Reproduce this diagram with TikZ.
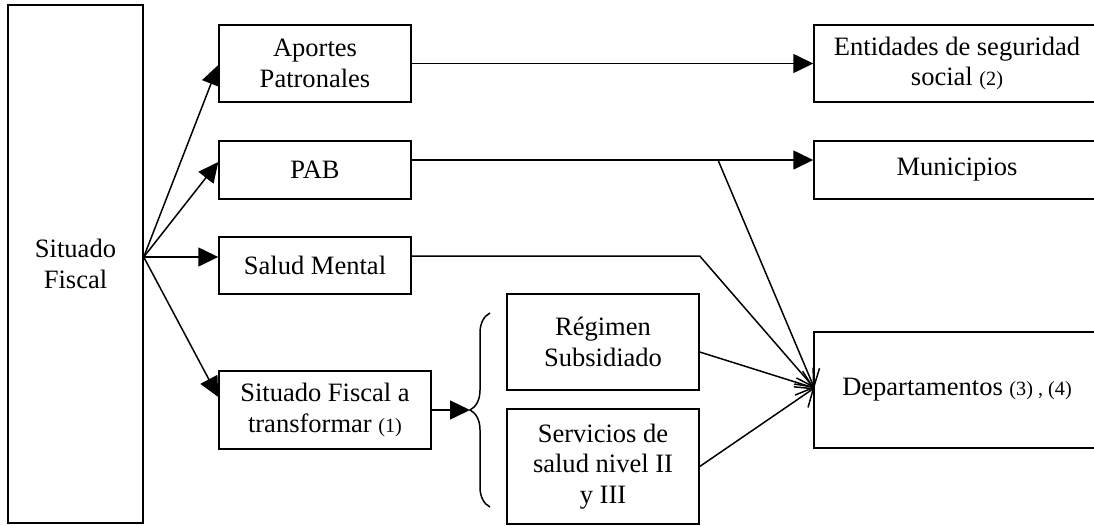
\documentclass[tikz,border=0pt]{standalone}
\usepackage{fontspec}
\setmainfont{Liberation Serif}
\usetikzlibrary{calc,arrows.meta,decorations.pathreplacing}
\newcommand{\nota}[1]{{\fontsize{11.5}{13}\selectfont #1}}

\begin{document}
\begin{tikzpicture}[x=0.02cm,y=-0.02cm,line width=0.85pt,
    box/.style={draw,inner sep=0pt,align=center,font=\fontsize{15.1}{17.5}\selectfont},
    tri/.style={-{Triangle[length=0.4cm,width=0.38cm]}},
    barb/.style={-{Straight Barb[length=0.3cm,width=0.5cm]}}]
        \useasboundingbox (0,0) rectangle (1094,525);

        \node[box,minimum width=2.7cm,minimum height=10.36cm] (sf) at (75.5,264) {Situado\\Fiscal};

        \node[box,minimum width=3.84cm,minimum height=1.54cm] (apo) at (315,63.5) {Aportes\\Patronales};
        \node[box,minimum width=3.84cm,minimum height=1.16cm] (pab) at (315,170) {PAB};
        \node[box,minimum width=3.84cm,minimum height=1.14cm] (sm) at (315,265.5) {Salud Mental};
        \node[box,minimum width=4.24cm,minimum height=1.56cm] (sft) at (325,410) {Situado Fiscal a\\transformar \nota{(1)}};

        \node[box,minimum width=3.84cm,minimum height=1.92cm] (reg) at (603,342) {Régimen\\Subsidiado};
        \node[box,minimum width=3.84cm,minimum height=2.30cm] (ser) at (603,466.5) {Servicios de\\salud nivel II\\y III};

        \node[box,minimum width=5.72cm,minimum height=1.54cm] (ent) at (957,63.5) {Entidades de seguridad\\social \nota{(2)}};
        \node[box,minimum width=5.72cm,minimum height=1.16cm] (mun) at (957,170) {Municipios};
        \node[box,minimum width=5.72cm,minimum height=2.32cm] (dep) at (957,390) {Departamentos \nota{(3) , (4)}};

        \coordinate (src) at ($(sf.east)+(0,-7)$);
        \draw[tri] (src) -- ($(apo.west)+(0,1.5)$);
        \draw[tri] (src) -- ($(pab.west)+(0,-8)$);
        \draw[tri] (src) -- (src -| sm.west);
        \draw[tri] (src) -- ($(sft.west)+(0,-13)$);

        \draw[tri] (apo.east) -- (ent.west);
        \coordinate (pabout) at ($(pab.east)+(0,-10)$);
        \draw[tri] (pabout) -- (pabout -| mun.west);

        \coordinate (target) at ($(dep.west)+(1,-2)$);
        \coordinate (split) at (718,160);
        \coordinate (smout) at ($(sm.east)+(0,-9.5)$);
        \draw[barb] (split) -- (target);
        \draw[barb] (smout) -- (smout -| reg.east) -- (target);
        \draw[barb] ($(reg.east)+(0,10)$) -- (target);
        \draw[barb] (ser.east) -- (target);

        \coordinate (tip) at (470,410);
        \draw[tri] (sft.east) -- (tip);
        \draw[decorate,decoration={brace,amplitude=0.4cm}] (490,507) -- (490,313);
    \end{tikzpicture}
\end{document}
